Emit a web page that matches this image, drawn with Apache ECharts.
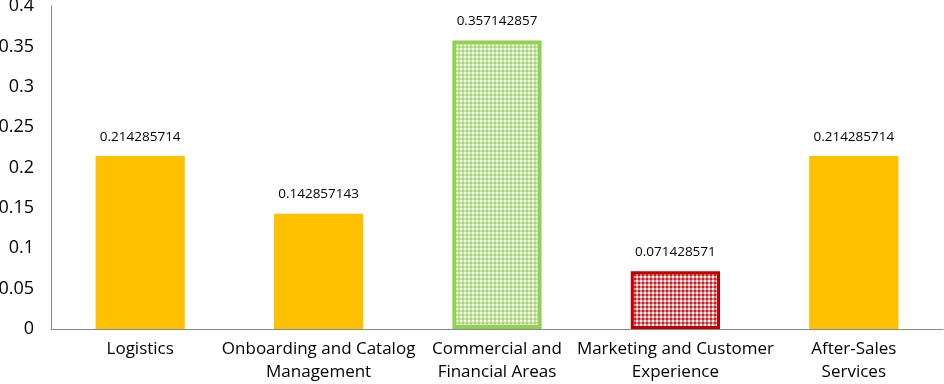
<!DOCTYPE html>
<html><head><meta charset="utf-8">
<script src="https://cdn.jsdelivr.net/npm/echarts@6/dist/echarts.min.js"></script>
<style>html,body{margin:0;padding:0;background:#fff}#c{width:944px;height:384px}</style>
</head><body><div id="c"></div>
<script>
const categories = ["Logistics", "Onboarding and Catalog\nManagement", "Commercial and\nFinancial Areas", "Marketing and Customer\nExperience", "After-Sales\nServices"];
const values = [0.214285714, 0.142857143, 0.357142857, 0.071428571, 0.214285714];
const labels = ["0.214285714", "0.142857143", "0.357142857", "0.071428571", "0.214285714"];

function checker(base, light, dark) {
  const cv = document.createElement('canvas');
  cv.width = 4; cv.height = 4;
  const ctx = cv.getContext('2d');
  ctx.fillStyle = base; ctx.fillRect(0, 0, 4, 4);
  ctx.fillStyle = light; ctx.fillRect(0, 0, 2, 2);
  ctx.fillStyle = dark; ctx.fillRect(2, 2, 2, 2);
  return cv;
}
const greenPat = { image: checker('#c6e6a4', '#ffffff', '#a2d872'), repeat: 'repeat' };
const redPat = { image: checker('#e68080', '#ffffff', '#d01c24'), repeat: 'repeat' };

const styles = [
  { color: '#FFC000' },
  { color: '#FFC000' },
  { color: greenPat, borderColor: '#92D050', borderWidth: 4 },
  { color: redPat, borderColor: '#C00000', borderWidth: 3 },
  { color: '#FFC000' }
];

const chart = echarts.init(document.getElementById('c'));
chart.setOption({
  animation: false,
  grid: { left: 51, right: 1, top: 6, bottom: 55, containLabel: false, outerBoundsMode: 'none' },
  xAxis: {
    type: 'category', data: categories,
    axisLine: { lineStyle: { color: '#888', width: 1 } },
    axisTick: { show: false },
    axisLabel: { color: '#000', fontFamily: 'Open Sans', fontSize: 17, lineHeight: 23, margin: 9, interval: 0 }
  },
  yAxis: {
    type: 'value', min: 0, max: 0.4, interval: 0.05,
    splitLine: { show: false },
    axisLine: { show: true, lineStyle: { color: '#888', width: 1 } },
    axisTick: { show: false },
    axisLabel: { color: '#000', fontFamily: 'Open Sans', fontSize: 18, margin: 17 }
  },
  series: [{
    type: 'bar', barWidth: '50%',
    data: values.map((v, i) => ({ value: v, itemStyle: styles[i] })),
    label: {
      show: true, position: 'top', distance: 12,
      color: '#000', fontFamily: 'Open Sans', fontSize: 13.5,
      formatter: p => labels[p.dataIndex]
    }
  }]
});
</script></body></html>
